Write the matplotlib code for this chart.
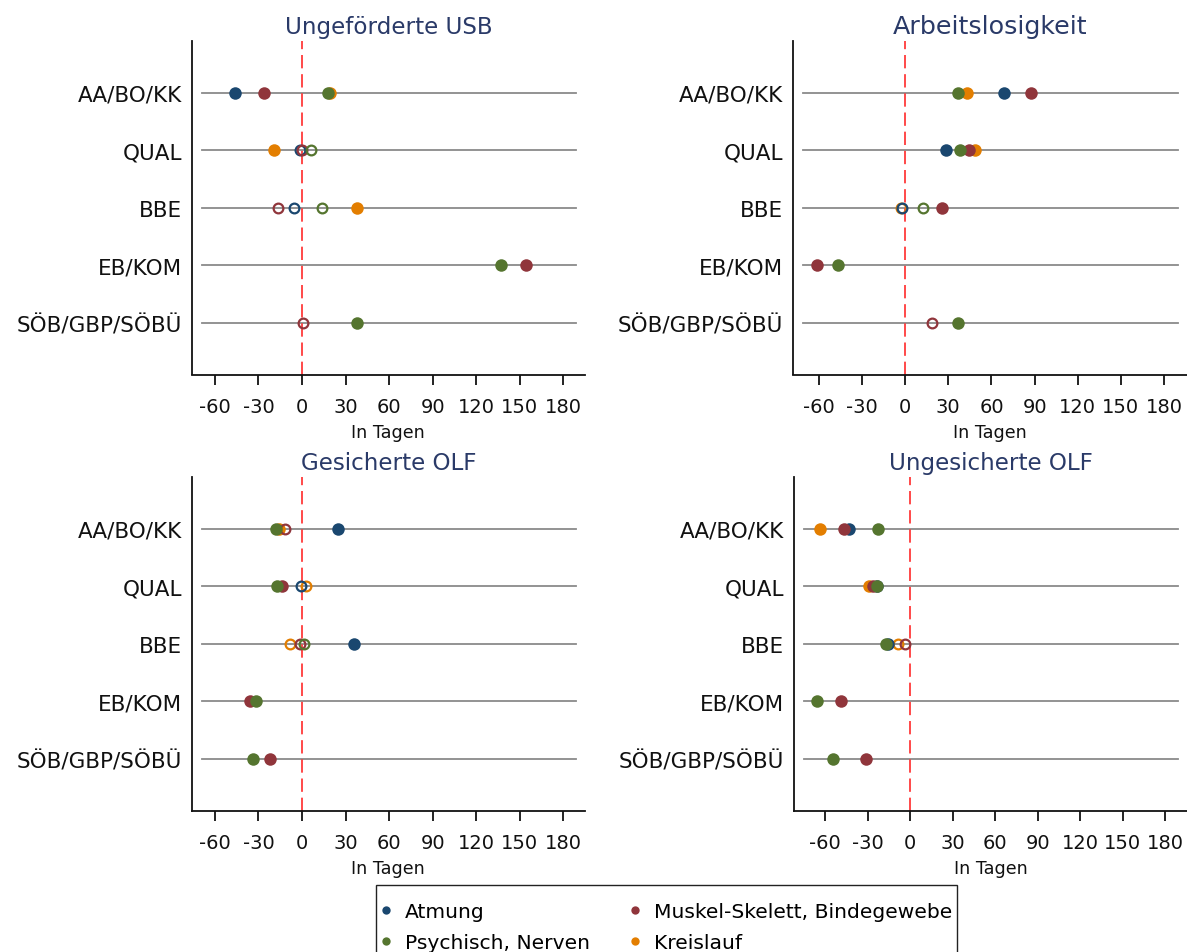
import numpy as np
import matplotlib
matplotlib.use("Agg")
import matplotlib.pyplot as plt
from matplotlib.lines import Line2D

plt.rcParams['font.family'] = ['DejaVu Sans']

# ---------------- data ----------------
categories = ["AA/BO/KK", "QUAL", "BBE", "EB/KOM", "SÖB/GBP/SÖBÜ"]
groups = ["Atmung", "Psychisch, Nerven", "Muskel-Skelett, Bindegewebe", "Kreislauf"]
titles = ["Ungeförderte USB", "Arbeitslosigkeit", "Gesicherte OLF", "Ungesicherte OLF"]
xticks = [-60, -30, 0, 30, 60, 90, 120, 150, 180]
nan = np.nan

# rows: Atmung, Psychisch, Muskel-Skelett, Kreislauf ; columns: categories
usb_values = [[-46, -1.4, -5.7, nan, nan],
              [18, 6.2, 13.6, 136.8, 37.7],
              [-26.4, 0, -16.5, 154.5, 0.5],
              [19, -19.5, 38, nan, nan]]
usb_filled = [[1, 0, 0, 0, 0],
              [1, 0, 0, 1, 1],
              [1, 0, 0, 1, 0],
              [1, 1, 1, 0, 0]]

alo_values = [[68.5, 28.5, -2.0, nan, nan],
              [36.6, 38, 12.2, -46.4, 36.6],
              [87.2, 44.6, 25.3, -61, 18.9],
              [43, 48.8, -2.8, nan, nan]]
alo_filled = [[1, 1, 0, 0, 0],
              [1, 1, 0, 1, 1],
              [1, 1, 1, 1, 0],
              [1, 1, 0, 0, 0]]

golf_values = [[25, -0.5, 36, nan, nan],
               [-17.7, -17.4, 1.1, -31.4, -33.5],
               [-11.9, -13.7, -1.2, -35.7, -22],
               [-16, 2.5, -8, nan, nan]]
golf_filled = [[1, 0, 1, 0, 0],
               [1, 1, 0, 1, 1],
               [0, 1, 0, 1, 1],
               [1, 0, 0, 0, 0]]

uolf_values = [[-43.5, -23.5, -15.3, nan, nan],
               [-22.8, -23.1, -17.1, -65.8, -54.5],
               [-46.4, -26.3, -3.3, -48.9, -31.5],
               [-63.3, -28.9, -8.7, nan, nan]]
uolf_filled = [[1, 1, 1, 0, 0],
               [1, 1, 1, 1, 1],
               [1, 1, 0, 1, 1],
               [1, 1, 0, 0, 0]]

# ---------------- style ----------------
colors = ["#1a476f", "#55752f", "#90353b", "#e37e00"]
zorders = [4, 6, 5, 3]
title_color = "#2a3a68"

W, H = 1187, 953
fig = plt.figure(figsize=(W / 100, H / 100), dpi=100)

def px_axes(left, top, right, bottom):
    return fig.add_axes([left / W, 1 - bottom / H, (right - left) / W, (bottom - top) / H])

panels = [
    (px_axes(191.7, 42, 585, 375.5), usb_values, usb_filled, (-76, 195), 16.6),
    (px_axes(793, 42, 1187, 375.5), alo_values, alo_filled, (-78, 196), 18.3),
    (px_axes(191.7, 478, 585, 811.5), golf_values, golf_filled, (-76, 195), 16.6),
    (px_axes(794, 478, 1187, 811.5), uolf_values, uolf_filled, (-82, 195.5), 16.6),
]

ypos = np.arange(1, len(categories) + 1)

for i, (ax, vals, filled, xl, tsize) in enumerate(panels):
    ax.set_xlim(*xl)
    ax.set_ylim(len(categories) + 0.9, 0.1)
    for y in ypos:
        ax.axhline(y, xmin=0.025, xmax=0.977, color="#8a8a8a", lw=1.3, zorder=1)
    ax.axvline(0, color="#ff2a2a", lw=1.2, dashes=(8, 3.5), zorder=2)
    for g in range(len(groups)):
        v = np.array(vals[g], dtype=float)
        f = np.array(filled[g], dtype=bool)
        m = ~np.isnan(v)
        ax.plot(v[m & f], ypos[m & f], linestyle="none", marker="o", ms=9,
                mfc=colors[g], mec=colors[g], mew=0, zorder=zorders[g])
        ax.plot(v[m & ~f], ypos[m & ~f], linestyle="none", marker="o", ms=7,
                mfc="none", mec=colors[g], mew=1.6, zorder=zorders[g])
    ax.set_yticks(ypos)
    ax.set_yticklabels(categories, fontsize=15.5, color="#111111")
    ax.tick_params(axis="y", length=0, pad=7)
    ax.set_xticks(xticks)
    ax.set_xticklabels([str(t) for t in xticks], fontsize=14, color="#111111")
    ax.tick_params(axis="x", length=7, width=1.3, pad=9, color="#111111")
    ax.set_xlabel("In Tagen", fontsize=12.6, color="#111111", labelpad=5)
    for s in ["top", "right"]:
        ax.spines[s].set_visible(False)
    for s in ["left", "bottom"]:
        ax.spines[s].set_linewidth(1.3)
        ax.spines[s].set_color("#111111")
    ax.set_title(titles[i], fontsize=tsize, color=title_color, pad=6)

handles = [Line2D([], [], linestyle="none", marker="o", ms=6, mfc=c, mec=c, mew=0)
           for c in colors]
leg = fig.legend(handles, groups, loc="upper left",
                 bbox_to_anchor=(376 / W, 1 - 886 / H), borderaxespad=0, ncol=2,
                 fontsize=14.6, frameon=True, fancybox=False, framealpha=1,
                 edgecolor="#222222", handlelength=0.6, handletextpad=0.64,
                 columnspacing=1.93, labelspacing=0.6, borderpad=0.2,
                 title=" ", title_fontsize=0.5)
leg.get_frame().set_linewidth(1.0)

fig.savefig("out.png", dpi=100)
